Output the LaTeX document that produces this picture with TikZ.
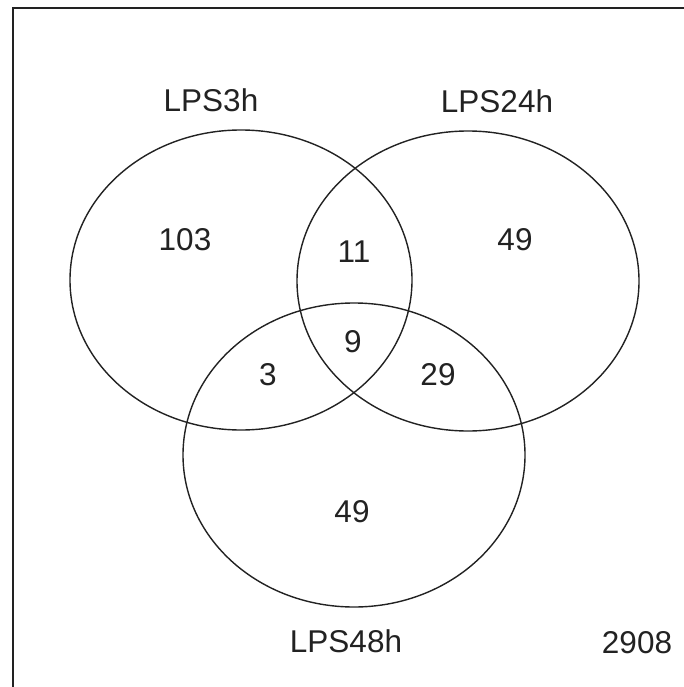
\documentclass[tikz,border=0pt]{standalone}
\usepackage{fontspec}
\setmainfont{Liberation Sans}
\usetikzlibrary{shapes.geometric}
\definecolor{ink}{HTML}{222222}
\begin{document}
\begin{tikzpicture}[x=1pt,y=-1pt,
  setring/.style={ellipse,draw=ink,line width=1.4pt,inner sep=0pt,
    minimum width=342pt,minimum height=#1},
  lbl/.style={anchor=base,inner sep=0pt,text=ink,
    font=\fontsize{31.5}{38}\selectfont}]
  \useasboundingbox (0,0) rectangle (684,687);
  \fill[white] (0,0) rectangle (684,687);
  % frame (left and top edges)
  \draw[ink,line width=2pt] (13,687) -- (13,8) -- (684,8);

  % the three sets
  \node[setring=300pt] (s3)  at (241,280) {};
  \node[setring=300pt] (s24) at (468,281) {};
  \node[setring=304pt] (s48) at (354,455) {};

  % set names
  \node[lbl] (n3)  at (211,112) {LPS3h};
  \node[lbl] (n24) at (497,113) {LPS24h};
  \node[lbl] (n48) at (346,652) {LPS48h};
  \node[lbl] (tot) at (637,653) {2908};

  % region counts
  \node[lbl] (c3)     at (185,250) {103};
  \node[lbl] (c24)    at (515,250) {49};
  \node[lbl] (c3x24)  at (354,262) {11};
  \node[lbl] (call)   at (353,352) {9};
  \node[lbl] (c3x48)  at (268,385) {3};
  \node[lbl] (c24x48) at (438,385) {29};
  \node[lbl] (c48)    at (352,522) {49};
\end{tikzpicture}
\end{document}
